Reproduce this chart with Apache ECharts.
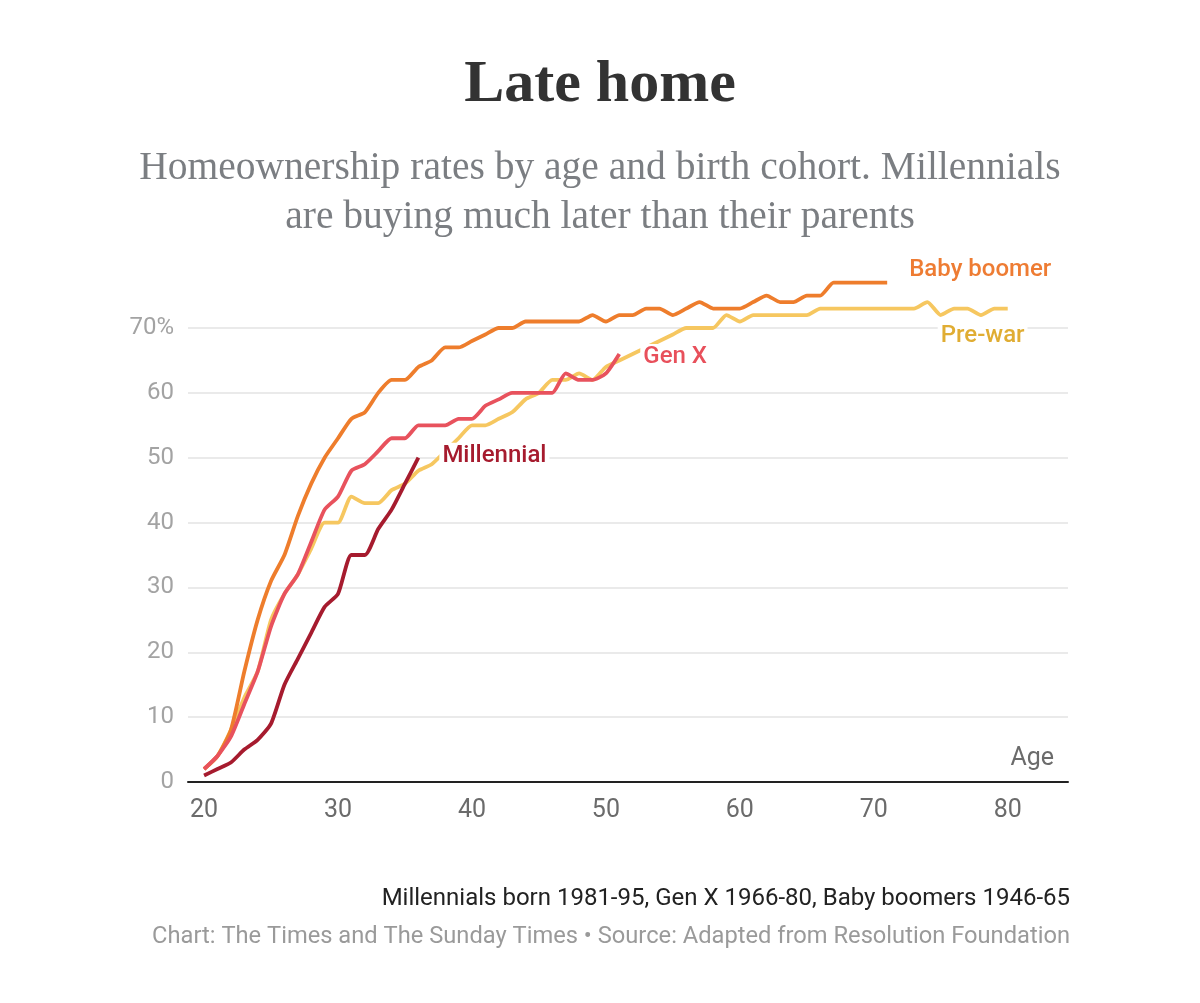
<!DOCTYPE html>
<html>
<head>
<meta charset="utf-8">
<title>Late home</title>
<script src="https://cdn.jsdelivr.net/npm/echarts@6/dist/echarts.min.js"></script>
<style>
  html, body { margin: 0; padding: 0; background: #fff; }
  #chart { width: 1200px; height: 1003px; }
</style>
</head>
<body>
<div id="chart"></div>
<script>
// ages 20..80, one value per year of age
const ages = [];
for (let a = 20; a <= 80; a++) ages.push(a);

const preWar = [2, 4, 8, 13, 17, 25, 29, 32, 36, 40, 40, 44, 43, 43, 45, 46, 48, 49, 51, 53,
  55, 55, 56, 57, 59, 60, 62, 62, 63, 62, 64, 65, 66, 67, 68, 69, 70, 70, 70, 72,
  71, 72, 72, 72, 72, 72, 73, 73, 73, 73, 73, 73, 73, 73, 74, 72, 73, 73, 72, 73, 73];
const babyBoomer = [2, 4, 8, 17, 25, 31, 35, 41, 46, 50, 53, 56, 57, 60, 62, 62, 64, 65, 67, 67,
  68, 69, 70, 70, 71, 71, 71, 71, 71, 72, 71, 72, 72, 73, 73, 72, 73, 74, 73, 73,
  73, 74, 75, 74, 74, 75, 75, 77, 77, 77, 77, 77];
const genX = [2, 4, 7, 12, 17, 24, 29, 32, 37, 42, 44, 48, 49, 51, 53, 53, 55, 55, 55, 56,
  56, 58, 59, 60, 60, 60, 60, 63, 62, 62, 63, 66];
const millennial = [1, 2, 3, 5, 6.5, 9, 15, 19, 23, 27, 29, 35, 35, 39, 42, 46, 50];

const xTicks = [20, 30, 40, 50, 60, 70, 80];

function pairs(values) {
  return values.map((v, i) => [ages[i], v]);
}

const chart = echarts.init(document.getElementById('chart'), null, { renderer: 'canvas' });

function cohort(name, values, lineColor, labelColor, offset) {
  return {
    name: name,
    type: 'line',
    data: pairs(values),
    showSymbol: false,
    smooth: 0.2,
    clip: false,
    lineStyle: { color: lineColor, width: 3.8 },
    emphasis: { disabled: true },
    endLabel: {
      show: true,
      formatter: '{a}',
      color: labelColor,
      fontFamily: 'Roboto',
      fontWeight: 500,
      fontSize: 24,
      backgroundColor: '#fff',
      padding: [1, 3],
      offset: offset
    }
  };
}

chart.setOption({
  animation: false,
  backgroundColor: '#fff',
  title: [
    {
      text: 'Late home',
      left: 'center',
      top: 50,
      textStyle: { fontFamily: 'Liberation Serif', fontWeight: 'bold', fontSize: 60, color: '#333' }
    },
    {
      text: 'Homeownership rates by age and birth cohort. Millennials\nare buying much later than their parents',
      left: 'center',
      top: 139,
      textStyle: { fontFamily: 'Liberation Serif', fontWeight: 'normal', fontSize: 39.5, lineHeight: 49, color: '#7b7e82' }
    },
    {
      text: 'Millennials born 1981-95, Gen X 1966-80, Baby boomers 1946-65',
      right: 125,
      top: 882,
      textStyle: { fontFamily: 'Roboto', fontWeight: 'normal', fontSize: 24, color: '#222' }
    },
    {
      text: 'Chart: The Times and The Sunday Times \u2022 Source: Adapted from Resolution Foundation',
      right: 125,
      top: 920,
      textStyle: { fontFamily: 'Roboto', fontWeight: 'normal', fontSize: 23.7, color: '#9a9a9a' }
    }
  ],
  grid: { left: 188, right: 132, top: 328, bottom: 221 },
  xAxis: {
    type: 'value',
    min: 18.8,
    max: 84.5,
    name: 'Age',
    nameLocation: 'end',
    nameGap: -14,
    nameTextStyle: {
      fontFamily: 'Roboto', fontSize: 25, color: '#6b6b6b',
      align: 'right', verticalAlign: 'bottom', padding: [0, 0, 11, 0]
    },
    axisLine: { show: true, lineStyle: { color: '#222', width: 2 } },
    axisTick: { show: false },
    splitLine: { show: false },
    axisLabel: {
      customValues: xTicks,
      fontFamily: 'Roboto', fontSize: 25, color: '#6b6b6b', margin: 16
    }
  },
  yAxis: {
    type: 'value',
    min: 0,
    max: 70,
    interval: 10,
    axisLine: { show: false },
    axisTick: { show: false },
    splitLine: { lineStyle: { color: '#e3e3e3', width: 1.5 } },
    axisLabel: {
      fontFamily: 'Roboto', fontSize: 24, color: '#a3a3a3', margin: 14,
      formatter: v => (v === 70 ? '70%' : String(v))
    }
  },
  series: [
    cohort('Pre-war', preWar, '#f6c760', '#e0ad33', [-78, 27]),
    cohort('Baby boomer', babyBoomer, '#ee7d2c', '#ee7c33', [11, -13]),
    cohort('Gen X', genX, '#e8525d', '#e8505b', [13, 3]),
    cohort('Millennial', millennial, '#a61b2e', '#a61b2e', [13, -2])
  ]
});

window.addEventListener('resize', () => {
  chart.resize();
});
</script>
</body>
</html>
